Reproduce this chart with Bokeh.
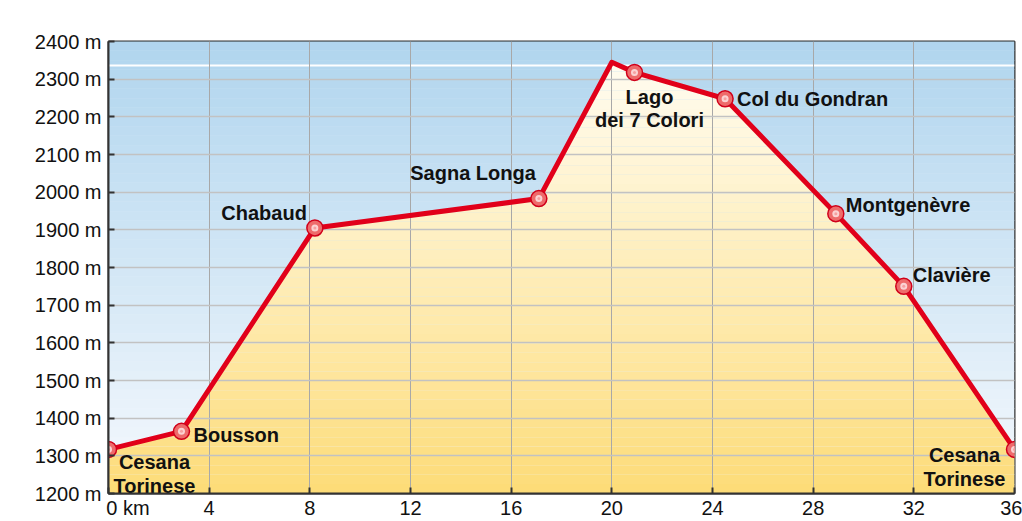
import numpy as np
from bokeh.plotting import figure
from bokeh.models import FixedTicker, PrintfTickFormatter, ColumnDataSource
from bokeh.core.properties import value
from bokeh.embed import file_html
from bokeh.resources import INLINE

# ---- data ----
profile_km = [0, 2.9, 8.2, 17.1, 20.0, 20.9, 24.5, 28.9, 31.6, 36.0]
profile_m = [1317, 1365, 1905, 1983, 2345, 2318, 2248, 1943, 1750, 1317]

stop_names = ["Cesana\nTorinese", "Bousson", "Chabaud", "Sagna Longa", "Lago\ndei 7 Colori",
              "Col du Gondran", "Montgenèvre", "Clavière", "Cesana\nTorinese"]
stop_km = [0, 2.9, 8.2, 17.1, 20.9, 24.5, 28.9, 31.6, 36.0]
stop_m = [1317, 1365, 1905, 1983, 2318, 2248, 1943, 1750, 1317]

x_ticks = [0, 4, 8, 12, 16, 20, 24, 28, 32, 36]
y_ticks = [1200, 1300, 1400, 1500, 1600, 1700, 1800, 1900, 2000, 2100, 2200, 2300, 2400]
white_line_m = 2336

# label styling (pixel offsets / alignment)
lab_align = ["center", "left", "right", "right", "center", "left", "left", "left", "center"]
lab_base = ["top", "middle", "middle", "middle", "top", "middle", "middle", "middle", "top"]
lab_dx = [46, 12, -8, -3, 15, 12, 10, 9, -50]
lab_dy = [2, 4, -15, -26, 14, 0, -9, -11, -5]

FONT = "Liberation Sans"

p = figure(width=1022, height=521, x_range=(0, 36), y_range=(1200, 2400),
           output_backend="svg", toolbar_location=None,
           min_border_left=108, min_border_right=8, min_border_top=41, min_border_bottom=27)
p.background_fill_color = "white"
p.border_fill_color = "white"


def mix(c0, c1, t):
    a = [int(c0[i:i + 2], 16) for i in (1, 3, 5)]
    b = [int(c1[i:i + 2], 16) for i in (1, 3, 5)]
    return "#%02x%02x%02x" % tuple(int(round(a[k] + (b[k] - a[k]) * t)) for k in range(3))


# blue sky gradient (full width)
ymin, ymax = 1200, 2400
nb = 48
edges = np.linspace(ymin, ymax, nb + 1)
for i in range(nb):
    t = (edges[i] + edges[i + 1]) / 2
    col = mix("#f0f6fc", "#b0d5ee", (t - 1300) / 1100 if t > 1300 else 0)
    p.hstrip(y0=edges[i], y1=edges[i + 1], fill_color=col, line_color=col, line_width=0.5, level="image")

p.hspan(y=[white_line_m], line_color="white", line_width=2, level="image")


def clip_band(a, b):
    xs = list(profile_km)
    for i in range(len(profile_km) - 1):
        x0, y0 = profile_km[i], profile_m[i]
        x1, y1 = profile_km[i + 1], profile_m[i + 1]
        for lev in (a, b):
            if (y0 - lev) * (y1 - lev) < 0:
                xs.append(x0 + (lev - y0) * (x1 - x0) / (y1 - y0))
    xs = sorted(set(xs))
    ys = np.interp(xs, profile_km, profile_m)
    return xs, np.clip(ys, a, b)


# yellow gradient below the profile
top = max(profile_m)
yedges = np.linspace(ymin, top, 47)
for i in range(len(yedges) - 1):
    a, b = yedges[i], yedges[i + 1]
    xs, y2 = clip_band(a, b)
    t = ((a + b) / 2 - ymin) / (top - ymin)
    col = mix("#fddb76", "#fffcf0", t ** 0.9)
    p.varea(x=xs, y1=[a] * len(xs), y2=list(y2), fill_color=col, level="image")

# grid
p.xgrid.grid_line_color = "#a8a8a8"
p.ygrid.grid_line_color = "#c2c2c2"
p.xgrid.grid_line_width = 1
p.ygrid.grid_line_width = 1.5

# route
p.line(profile_km, profile_m, line_color="#e1001a", line_width=5, line_join="round")

src = ColumnDataSource(dict(x=stop_km, y=stop_m, name=stop_names, align=lab_align,
                            base=lab_base, dx=lab_dx, dy=lab_dy))
p.scatter("x", "y", source=src, size=16, fill_color="#ee6b6b", line_color="#d0001a", line_width=1.5)
p.scatter("x", "y", source=src, size=7, fill_color="#fbd2d2", line_color=None)
p.scatter("x", "y", source=src, size=3, fill_color="#f6a0a0", line_color=None)

p.text("x", "y", text="name", source=src, text_align="align", text_baseline="base",
       x_offset="dx", y_offset="dy", text_font=value(FONT), text_font_style="bold",
       text_font_size="20px", text_color="#111111", text_line_height=1.05)

# axes
for ax in (p.xaxis[0], p.yaxis[0]):
    ax.axis_line_color = "#333333"
    ax.axis_line_width = 2
    ax.major_tick_in = 6
    ax.major_tick_out = 0
    ax.major_tick_line_color = "#333333"
    ax.major_tick_line_width = 2
    ax.minor_tick_line_color = None
    ax.major_label_text_font = FONT
    ax.major_label_text_font_size = "20px"
    ax.major_label_text_color = "#111111"

p.yaxis.ticker = FixedTicker(ticks=y_ticks)
p.yaxis.formatter = PrintfTickFormatter(format="%d m")
p.yaxis.major_label_standoff = 7
p.xaxis.ticker = FixedTicker(ticks=x_ticks)
p.xaxis.major_label_overrides = {x_ticks[0]: "\u00a0" * 7 + "0 km"}
p.xaxis.major_label_standoff = 3
p.ygrid.ticker = FixedTicker(ticks=y_ticks)
p.xgrid.ticker = FixedTicker(ticks=x_ticks)

p.outline_line_color = "#333333"
p.outline_line_width = 2
p.outline_line_alpha = 1

open("out.html", "w").write(file_html(p, INLINE))
